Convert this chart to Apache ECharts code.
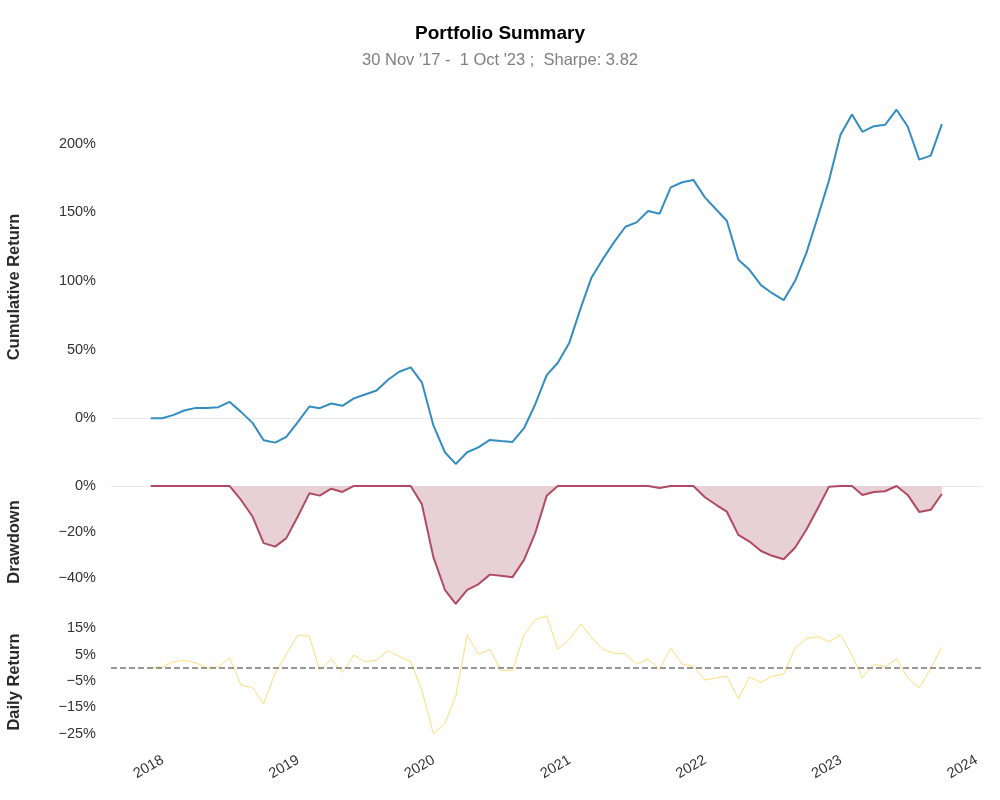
<!DOCTYPE html>
<html>
<head>
<meta charset="utf-8">
<script src="https://cdn.jsdelivr.net/npm/echarts@6/dist/echarts.min.js"></script>
<style>
  html, body { margin: 0; padding: 0; background: #fff; }
  #main { width: 1000px; height: 800px; }
</style>
</head>
<body>
<div id="main"></div>
<script type="text/javascript">
// month-end dates
var dates = [
    '2017-11-30', '2017-12-31',
    '2018-01-31', '2018-02-28', '2018-03-31', '2018-04-30', '2018-05-31', '2018-06-30',
    '2018-07-31', '2018-08-31', '2018-09-30', '2018-10-31', '2018-11-30', '2018-12-31',
    '2019-01-31', '2019-02-28', '2019-03-31', '2019-04-30', '2019-05-31', '2019-06-30',
    '2019-07-31', '2019-08-31', '2019-09-30', '2019-10-31', '2019-11-30', '2019-12-31',
    '2020-01-31', '2020-02-29', '2020-03-31', '2020-04-30', '2020-05-31', '2020-06-30',
    '2020-07-31', '2020-08-31', '2020-09-30', '2020-10-31', '2020-11-30', '2020-12-31',
    '2021-01-31', '2021-02-28', '2021-03-31', '2021-04-30', '2021-05-31', '2021-06-30',
    '2021-07-31', '2021-08-31', '2021-09-30', '2021-10-31', '2021-11-30', '2021-12-31',
    '2022-01-31', '2022-02-28', '2022-03-31', '2022-04-30', '2022-05-31', '2022-06-30',
    '2022-07-31', '2022-08-31', '2022-09-30', '2022-10-31', '2022-11-30', '2022-12-31',
    '2023-01-31', '2023-02-28', '2023-03-31', '2023-04-30', '2023-05-31', '2023-06-30',
    '2023-07-31', '2023-08-31', '2023-09-30'
];

// cumulative return (%)
var cumReturn = [
    0.0, 0.0,
    2.4, 5.6, 7.5, 7.5, 8.0, 11.9, 4.6, -3.4, -16.1, -17.8, -13.6, -2.9,
    8.5, 7.3, 10.7, 9.0, 14.4, 17.3, 20.2, 28.0, 33.8, 37.0, 26.1, -5.3,
    -24.8, -33.3, -24.8, -21.2, -15.8, -16.6, -17.3, -7.3, 10.0, 31.4, 40.4, 55.0,
    80.5, 102.0, 115.8, 128.0, 139.4, 142.6, 150.9, 148.9, 168.1, 171.8, 173.5, 160.8,
    151.8, 143.8, 115.3, 108.0, 96.9, 91.0, 85.9, 100.0, 120.2, 146.7, 173.0, 206.3,
    221.2, 208.5, 212.6, 213.6, 224.6, 212.4, 188.3, 191.2, 214.1
];

// drawdown (%)
var drawdown = [
    0, 0,
    0, 0, 0, 0, 0, 0, -6.1, -13.3, -24.9, -26.4, -22.7, -13.3,
    -3.2, -4.2, -1.2, -2.6, 0, 0, 0, 0, 0, 0, -8.0, -31.0,
    -45.2, -51.3, -45.2, -42.8, -38.6, -39.1, -39.7, -32.2, -20.6, -4.3, 0, 0,
    0, 0, 0, 0, 0, 0, 0, -0.9, 0, 0, 0, -4.9,
    -8.3, -11.2, -21.3, -24.2, -28.3, -30.4, -31.9, -26.8, -19.1, -9.7, -0.3, 0,
    0, -3.9, -2.6, -2.3, 0, -3.9, -11.3, -10.4, -3.5
];

// daily return (%)
var dailyReturn = [
    0.0, 0.3,
    2.3, 2.8, 1.9, 0.0, 0.3, 3.8, -6.6, -7.5, -13.5, -2.1, 5.1, 12.4,
    12.0, -1.0, 3.3, -1.8, 4.8, 2.3, 2.9, 6.5, 4.3, 2.3, -8.5, -25.0,
    -21.1, -10.9, 12.4, 5.2, 7.0, -1.0, -1.0, 12.5, 18.2, 19.7, 7.1, 10.8,
    16.7, 11.6, 7.0, 5.5, 5.3, 1.4, 3.3, -0.6, 7.5, 1.4, 0.6, -4.7,
    -3.8, -3.2, -11.7, -3.5, -5.6, -3.2, -2.4, 7.6, 11.1, 11.8, 9.9, 12.5,
    4.8, -3.8, 1.3, 0.4, 3.4, -3.8, -7.6, -0.2, 7.8
];

var cumTicks = [0, 50, 100, 150, 200];
var ddTicks = [0, -20, -40];
var drTicks = [15, 5, -5, -15, -25];

function pair(vals) {
    var out = [];
    for (var i = 0; i < vals.length; i++) {
        out.push([dates[i], vals[i]]);
    }
    return out;
}
function pctLabel(ticks) {
    return function (v) {
        var r = Math.round(v * 100) / 100;
        if (ticks.indexOf(r) < 0) return '';
        return (r < 0 ? '\u2212' + (-r) : r) + '%';
    };
}
// a zero line drawn underneath the series of the same grid
function zeroLine(idx, color, width, type) {
    return {
        type: 'line', xAxisIndex: idx, yAxisIndex: idx, data: [], z: 1, silent: true,
        markLine: { silent: true, symbol: 'none', label: { show: false }, z: 1,
            lineStyle: { color: color, width: width, type: type }, data: [{ yAxis: 0 }] }
    };
}

var FONT = 'Liberation Sans, Arial, sans-serif';
var xCommon = {
    type: 'time',
    min: '2017-08-15',
    max: '2024-01-16',
    minInterval: 365 * 24 * 3600 * 1000,
    axisLine: { show: false },
    axisTick: { show: false },
    splitLine: { show: false }
};
var yCommon = {
    type: 'value',
    axisLine: { show: false },
    axisTick: { show: false },
    splitLine: { show: false },
    axisLabel: { color: '#333', fontSize: 14.5, fontFamily: FONT, margin: 15 }
};
function merge(a, b) {
    var o = {};
    for (var k in a) o[k] = a[k];
    for (var k2 in b) o[k2] = b[k2];
    return o;
}
var yTitle = 'bold 16.5px ' + FONT;

var chart = echarts.init(document.getElementById('main'));
chart.setOption({
    backgroundColor: '#fff',
    animation: false,
    title: {
        text: 'Portfolio Summary',
        subtext: "30 Nov '17 -  1 Oct '23 ;  Sharpe: 3.82",
        left: 'center',
        top: 19,
        itemGap: 9,
        textStyle: { fontFamily: FONT, fontSize: 19, fontWeight: 'bold', color: '#000' },
        subtextStyle: { fontFamily: FONT, fontSize: 16.5, color: '#808080' }
    },
    graphic: [
        { type: 'text', x: 14, y: 287, rotation: Math.PI / 2,
          style: { text: 'Cumulative Return', font: yTitle, fill: '#2a2a2a', align: 'center', verticalAlign: 'middle' } },
        { type: 'text', x: 14, y: 542, rotation: Math.PI / 2,
          style: { text: 'Drawdown', font: yTitle, fill: '#2a2a2a', align: 'center', verticalAlign: 'middle' } },
        { type: 'text', x: 14, y: 682, rotation: Math.PI / 2,
          style: { text: 'Daily Return', font: yTitle, fill: '#2a2a2a', align: 'center', verticalAlign: 'middle' } }
    ],
    grid: [
        { left: 111, right: 18, top: 92, height: 388 },
        { left: 111, right: 18, top: 480, height: 130 },
        { left: 111, right: 18, top: 610, height: 129 }
    ],
    xAxis: [
        merge(xCommon, { gridIndex: 0, axisLabel: { show: false } }),
        merge(xCommon, { gridIndex: 1, axisLabel: { show: false } }),
        merge(xCommon, {
            gridIndex: 2,
            axisLabel: {
                show: true, rotate: 30, color: '#333', fontSize: 14.5, fontFamily: FONT, margin: 20,
                showMinLabel: false, showMaxLabel: false,
                formatter: function (v) { return String(new Date(v).getFullYear()); }
            }
        })
    ],
    yAxis: [
        merge(yCommon, { gridIndex: 0, min: -45, max: 237.5, interval: 5,
            axisLabel: merge(yCommon.axisLabel, { formatter: pctLabel(cumTicks) }) }),
        merge(yCommon, { gridIndex: 1, min: -54, max: 2.6, interval: 2,
            axisLabel: merge(yCommon.axisLabel, { formatter: pctLabel(ddTicks) }) }),
        merge(yCommon, { gridIndex: 2, min: -27, max: 21.9, interval: 1,
            axisLabel: merge(yCommon.axisLabel, { formatter: pctLabel(drTicks) }) })
    ],
    series: [
        zeroLine(0, '#e8e8e8', 1, 'solid'),
        zeroLine(1, '#e8e8e8', 1, 'solid'),
        {
            name: 'Cumulative Return', type: 'line', xAxisIndex: 0, yAxisIndex: 0, z: 3,
            data: pair(cumReturn), showSymbol: false,
            lineStyle: { color: '#348dc1', width: 2 }
        },
        {
            name: 'Drawdown', type: 'line', xAxisIndex: 1, yAxisIndex: 1, z: 3,
            data: pair(drawdown), showSymbol: false,
            lineStyle: { color: '#af4b64', width: 2 },
            areaStyle: { color: '#e8d0d7', opacity: 1 }
        },
        {
            name: 'Daily Return', type: 'line', xAxisIndex: 2, yAxisIndex: 2, z: 2,
            data: pair(dailyReturn), showSymbol: false,
            lineStyle: { color: '#fedd78', width: 1 },
            markLine: { silent: true, symbol: 'none', label: { show: false },
                lineStyle: { color: '#777', width: 1.5, type: [6, 3] }, data: [{ yAxis: 0 }] }
        }
    ]
});
</script>
</body>
</html>
